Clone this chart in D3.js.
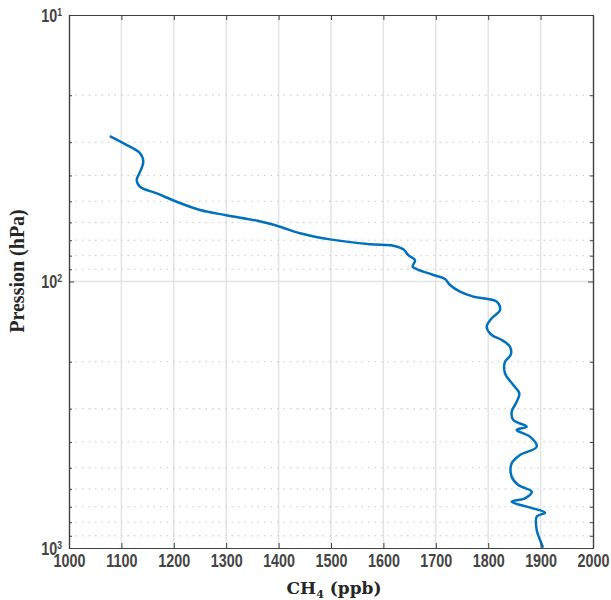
<!DOCTYPE html>
<html><head><meta charset="utf-8">
<script src="https://cdn.jsdelivr.net/npm/d3@7"></script>
<style>body{margin:0;background:#fff}</style>
</head><body>
<svg id="c" width="611" height="600"></svg>
<script>
const ch4 = [1079.6,1106.9,1135.5,1141.8,1135.5,1129.2,1135.5,1167.4,1205.5,1250,1300,1360,1402.7,1440.8,1498.1,1574.4,1618.9,1638,1647.5,1660.3,1655.9,1663.5,1695.2,1717.6,1727.1,1746.2,1771.6,1816.2,1822.5,1806.7,1797.1,1806.7,1825.8,1841.6,1842.9,1832.1,1832.1,1847.9,1859.4,1854.4,1844.8,1847.9,1873.5,1854.4,1879.8,1892.6,1860.7,1844.8,1844.8,1857.4,1883,1870.2,1844.8,1873.5,1908.4,1892.6,1892.6,1898.9,1904];
const pressure = [28.6,30.5,33.0,35.5,38.8,41.6,44.1,46.7,50.2,53.9,56.4,59.2,62.3,65.9,69.5,72.5,73.4,75.7,79.6,83.1,88.0,89.8,94.5,97.9,103.1,109.2,114.0,119.0,127.9,137.4,147.8,158.8,165.8,175.7,188.7,200.0,221.1,244.6,262.7,282.5,308.1,331.0,350.6,360.7,382.2,416.9,447.7,481.2,540.3,580.2,614.7,651,670.5,699.8,737,763,856,933,989];
const xTicks = [1000,1100,1200,1300,1400,1500,1600,1700,1800,1900,2000];
const yMajor = [10,100,1000];
const yMinor = [20,30,40,50,60,70,80,90,200,300,400,500,600,700,800,900];

const L=69,R=593,T=15,B=548;
const svg=d3.select("#c");
const x=d3.scaleLinear().domain([1000,2000]).range([L,R]);
const y=d3.scaleLog().domain([10,1000]).range([T,B]);
const tickFont="Liberation Sans, Arial, sans-serif";
const ax="#404040";

// grid
const g=svg.append("g");
g.selectAll(".vg").data(xTicks.slice(1,-1)).join("line")
 .attr("x1",d=>x(d)).attr("x2",d=>x(d)).attr("y1",T).attr("y2",B)
 .attr("stroke","#e3e3e3").attr("stroke-width",1.5);
g.selectAll(".hm").data(yMinor).join("line")
 .attr("x1",L).attr("x2",R).attr("y1",d=>y(d)).attr("y2",d=>y(d))
 .attr("stroke","#c8c8c8").attr("stroke-width",1).attr("stroke-dasharray","1.5,5");
g.selectAll(".hg").data([100]).join("line")
 .attr("x1",L).attr("x2",R).attr("y1",d=>y(d)).attr("y2",d=>y(d))
 .attr("stroke","#e3e3e3").attr("stroke-width",1.5);

// line
svg.append("path").datum(ch4.map((v,i)=>[v,pressure[i]]))
 .attr("fill","none").attr("stroke","#0072BD").attr("stroke-width",2.5)
 .attr("stroke-linejoin","round").attr("stroke-linecap","round")
 .attr("d",d3.line().x(d=>x(d[0])).y(d=>y(d[1])).curve(d3.curveCatmullRom.alpha(0.5)));

// axes
const axB=svg.append("g").attr("transform",`translate(0,${B})`)
 .call(d3.axisBottom(x).tickValues(xTicks).tickSizeInner(-5).tickSizeOuter(0).tickPadding(7).tickFormat(d3.format("d")));
const axT=svg.append("g").attr("transform",`translate(0,${T})`)
 .call(d3.axisTop(x).tickValues(xTicks).tickSizeInner(-5).tickSizeOuter(0).tickFormat(""));
const axL=svg.append("g").attr("transform",`translate(${L},0)`)
 .call(d3.axisLeft(y).tickValues(yMajor).tickSizeInner(-5).tickSizeOuter(0).tickFormat(""));
const axLm=svg.append("g").attr("transform",`translate(${L},0)`)
 .call(d3.axisLeft(y).tickValues(yMinor).tickSizeInner(-3).tickSizeOuter(0).tickFormat(""));
const axR=svg.append("g").attr("transform",`translate(${R},0)`)
 .call(d3.axisRight(y).tickValues(yMajor).tickSizeInner(-5).tickSizeOuter(0).tickFormat(""));
const axRm=svg.append("g").attr("transform",`translate(${R},0)`)
 .call(d3.axisRight(y).tickValues(yMinor).tickSizeInner(-3).tickSizeOuter(0).tickFormat(""));
[axB,axT,axL,axLm,axR,axRm].forEach(a=>{
  a.select(".domain").attr("stroke",ax).attr("stroke-width",1.2);
  a.selectAll(".tick line").attr("stroke",ax);
});
axB.selectAll(".tick text").attr("font-family",tickFont).attr("font-size",17.5).attr("font-weight","bold")
 .attr("fill","#444").attr("transform","scale(0.82,1)");

// y tick labels with superscripts
axL.selectAll(".tick").each(function(d){
  const t=d3.select(this).append("text").attr("x",-8.5).attr("dy","0.35em").attr("text-anchor","end")
   .attr("font-family",tickFont).attr("font-weight","bold").attr("fill","#444").attr("font-size",17.5)
   .attr("transform","scale(0.82,1)");
  t.append("tspan").text("10");
  t.append("tspan").attr("font-size",10.5).attr("dy","-0.55em").text(String(Math.round(Math.log10(d))));
});

// axis labels
const xl=svg.append("text").attr("x",334).attr("y",594).attr("text-anchor","middle")
 .attr("font-family","DejaVu Serif, serif").attr("font-weight","bold").attr("font-size",17).attr("fill","#262626");
xl.append("tspan").text("CH");
xl.append("tspan").attr("font-size",11).attr("dy","4").text("4");
xl.append("tspan").attr("dy","-4").text(" (ppb)");
svg.append("text").attr("transform",`translate(24,271) rotate(-90)`).attr("text-anchor","middle")
 .attr("font-family","Liberation Serif, serif").attr("font-weight","bold").attr("font-size",20).attr("fill","#262626")
 .text("Pression (hPa)");
</script>
</body></html>
